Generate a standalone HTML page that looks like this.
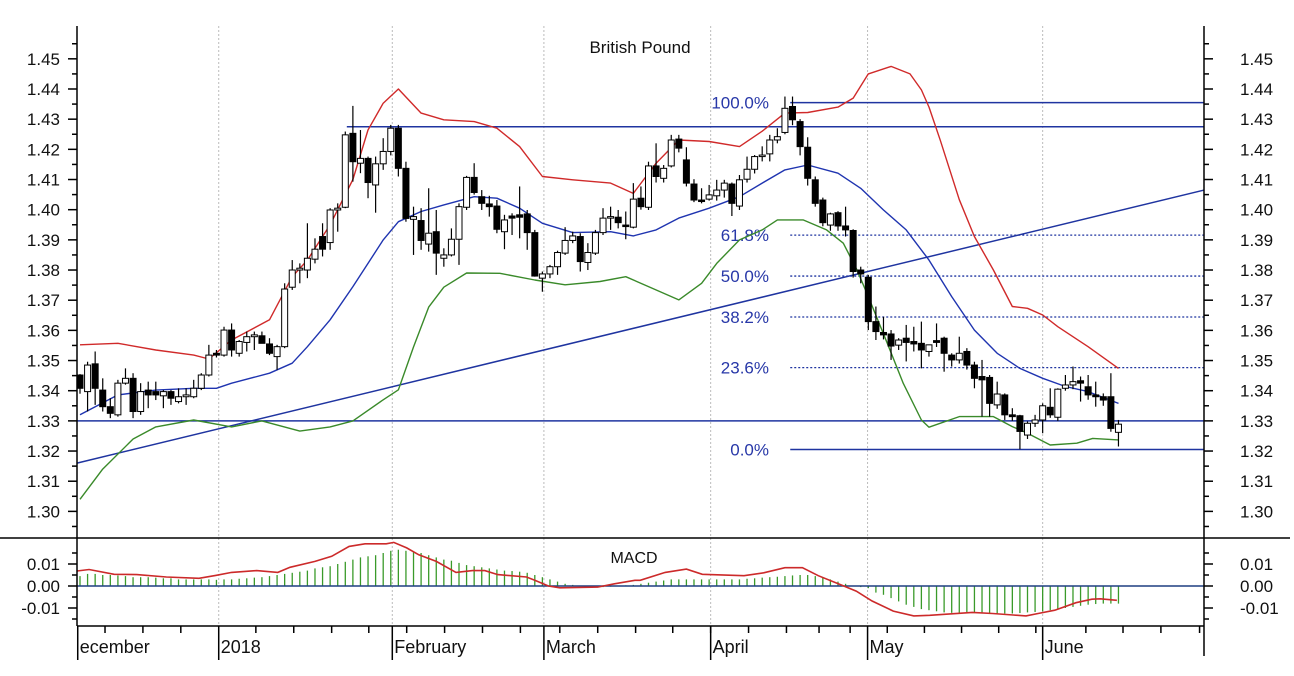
<!DOCTYPE html>
<html><head><meta charset="utf-8"><title>British Pound</title>
<style>
html,body{margin:0;padding:0;background:#fff;}
svg{display:block;font-family:"Liberation Sans",Arial,sans-serif;}
</style></head>
<body>
<svg id="chart" width="1294" height="676" viewBox="0 0 1294 676" xmlns="http://www.w3.org/2000/svg">
<rect x="0" y="0" width="1294" height="676" fill="#fff"/>
<g id="grid"></g>
<g id="lines"></g>
<g id="bands"></g>
<g id="candles"></g>
<g id="macd"></g>
<g id="axes"></g>
<text x="640" y="53" font-size="17" text-anchor="middle" fill="#111">British Pound</text>
<text x="634" y="563" font-size="16" text-anchor="middle" fill="#111">MACD</text>
</svg>
<script>
// ---- data ----
const opens = [1.3452,1.3397,1.3489,1.3402,1.3347,1.3320,1.3425,1.3441,1.3331,1.3402,1.3397,1.3383,1.3397,1.3364,1.3380,1.3380,1.3408,1.3452,1.3524,1.3518,1.3601,1.3524,1.3560,1.3579,1.3582,1.3555,1.3513,1.3546,1.3743,1.3800,1.3800,1.3836,1.3911,1.3891,1.3999,1.4008,1.4253,1.4154,1.4170,1.4082,1.4152,1.4193,1.4270,1.4137,1.3968,1.3964,1.3886,1.3927,1.3839,1.3850,1.3902,1.4008,1.4107,1.4043,1.4019,1.4012,1.3927,1.3979,1.3983,1.3986,1.3924,1.3773,1.3787,1.3811,1.3856,1.3898,1.3911,1.3825,1.3856,1.3924,1.3972,1.3975,1.3949,1.3942,1.4038,1.4008,1.4145,1.4104,1.4145,1.4234,1.4165,1.4085,1.4032,1.4035,1.4046,1.4065,1.4085,1.4012,1.4101,1.4134,1.4176,1.4185,1.4231,1.4256,1.4342,1.4292,1.4207,1.4099,1.4032,1.3949,1.3990,1.3946,1.3931,1.3800,1.3776,1.3629,1.3593,1.3588,1.3551,1.3574,1.3563,1.3557,1.3530,1.3566,1.3574,1.3518,1.3502,1.3530,1.3485,1.3447,1.3444,1.3353,1.3386,1.3320,1.3317,1.3253,1.3292,1.3303,1.3345,1.3312,1.3408,1.3419,1.3433,1.3413,1.3386,1.3380,1.3380,1.3262];
const highs = [1.3455,1.3496,1.3530,1.3441,1.3375,1.3436,1.3474,1.3458,1.3425,1.3430,1.3430,1.3402,1.3402,1.3408,1.3408,1.3436,1.3458,1.3552,1.3535,1.3612,1.3623,1.3568,1.3596,1.3596,1.3596,1.3574,1.3552,1.3756,1.3833,1.3822,1.3955,1.3905,1.3955,1.4005,1.4021,1.4259,1.4344,1.4264,1.4176,1.4176,1.4237,1.4281,1.4281,1.4159,1.4010,1.4005,1.4071,1.3999,1.3872,1.3938,1.4021,1.4112,1.4154,1.4065,1.4046,1.4032,1.3983,1.3988,1.4077,1.3999,1.3933,1.3795,1.3817,1.3864,1.3942,1.3927,1.3922,1.3889,1.3933,1.4005,1.4010,1.3999,1.3994,1.4088,1.4077,1.4159,1.4220,1.4148,1.4248,1.4248,1.4207,1.4101,1.4071,1.4082,1.4099,1.4099,1.4090,1.4115,1.4176,1.4181,1.4210,1.4248,1.4270,1.4375,1.4375,1.4300,1.4240,1.4110,1.4040,1.3990,1.3995,1.4010,1.3935,1.3811,1.3784,1.3679,1.3645,1.3601,1.3574,1.3618,1.3612,1.3629,1.3552,1.3623,1.3579,1.3524,1.3579,1.3541,1.3496,1.3502,1.3452,1.3430,1.3391,1.3342,1.3320,1.3298,1.3320,1.3358,1.3408,1.3408,1.3452,1.3480,1.3447,1.3452,1.3430,1.3391,1.3458,1.3303];
const lows = [1.3390,1.3331,1.3353,1.3331,1.3309,1.3314,1.3420,1.3309,1.3320,1.3342,1.3369,1.3342,1.3353,1.3358,1.3353,1.3375,1.3402,1.3447,1.3510,1.3513,1.3513,1.3513,1.3530,1.3535,1.3557,1.3518,1.3469,1.3541,1.3734,1.3756,1.3773,1.3822,1.3845,1.3867,1.3927,1.4005,1.4093,1.4121,1.4038,1.3990,1.4132,1.4180,1.4110,1.3960,1.3850,1.3867,1.3861,1.3784,1.3811,1.3845,1.3817,1.3999,1.4050,1.3999,1.3977,1.3922,1.3869,1.3916,1.3905,1.3867,1.3778,1.3728,1.3773,1.3784,1.3850,1.3889,1.3795,1.3800,1.3850,1.3916,1.3933,1.3938,1.3902,1.3938,1.4000,1.3999,1.4090,1.4090,1.4140,1.4190,1.4077,1.4025,1.4021,1.4030,1.4030,1.4040,1.3979,1.3999,1.4090,1.4120,1.4160,1.4160,1.4220,1.4250,1.4280,1.4180,1.4080,1.4010,1.3945,1.3930,1.3930,1.3911,1.3775,1.3756,1.3601,1.3568,1.3570,1.3502,1.3535,1.3497,1.3530,1.3474,1.3513,1.3545,1.3463,1.3480,1.3490,1.3470,1.3408,1.3314,1.3314,1.3340,1.3303,1.3300,1.3206,1.3240,1.3280,1.3259,1.3310,1.3300,1.3400,1.3405,1.3364,1.3370,1.3347,1.3350,1.3264,1.3215];
const closes = [1.3408,1.3485,1.3408,1.3347,1.3325,1.3425,1.3441,1.3331,1.3397,1.3386,1.3386,1.3397,1.3375,1.3380,1.3386,1.3408,1.3452,1.3518,1.3518,1.3601,1.3535,1.3563,1.3579,1.3585,1.3557,1.3524,1.3546,1.3737,1.3800,1.3806,1.3839,1.3869,1.3869,1.3999,1.4005,1.4248,1.4159,1.4170,1.4090,1.4152,1.4193,1.4270,1.4137,1.3971,1.3977,1.3898,1.3922,1.3856,1.3850,1.3902,1.4010,1.4107,1.4057,1.4021,1.4010,1.3935,1.3966,1.3972,1.3975,1.3924,1.3780,1.3787,1.3811,1.3858,1.3898,1.3913,1.3828,1.3858,1.3924,1.3972,1.3977,1.3957,1.3944,1.4035,1.4010,1.4145,1.4110,1.4137,1.4231,1.4204,1.4088,1.4032,1.4027,1.4049,1.4065,1.4088,1.4021,1.4099,1.4134,1.4176,1.4181,1.4231,1.4242,1.4336,1.4298,1.4209,1.4104,1.4021,1.3957,1.3986,1.3946,1.3933,1.3795,1.3787,1.3629,1.3596,1.3585,1.3548,1.3568,1.3560,1.3555,1.3535,1.3552,1.3560,1.3524,1.3502,1.3524,1.3485,1.3441,1.3436,1.3358,1.3389,1.3320,1.3314,1.3265,1.3292,1.3303,1.3350,1.3320,1.3405,1.3419,1.3430,1.3425,1.3386,1.3380,1.3369,1.3275,1.3289];

const upperIdx = [0,5,10,15,17,20,25,28,30,33,36,38,40,42,45,48,52,55,58,61,65,70,73,76,79,83,87,90,93,96,100,102,104,107,109.5,111,112,113.5,116,118,120.5,123,125,127,129,133,137];
const upperVal = [1.3552,1.3557,1.3535,1.3518,1.3505,1.3568,1.3635,1.3778,1.3833,1.3950,1.4100,1.4264,1.4353,1.4400,1.4320,1.4298,1.4292,1.4270,1.4209,1.4110,1.4099,1.4088,1.4054,1.4154,1.4231,1.4226,1.4209,1.4260,1.4320,1.4322,1.4340,1.4370,1.4450,1.4475,1.4450,1.4397,1.4340,1.4230,1.4033,1.3911,1.3800,1.3679,1.3673,1.3651,1.3612,1.3546,1.3474];
const midIdx = [0,5,10,15,18,20,25,28,30,33,36,38,40,42,45,48,52,55,58,61,65,70,73,76,79,83,87,90,93,96,100,103,106,109,112,115,118,121,124,127,130,133,137];
const midVal = [1.3320,1.3386,1.3402,1.3408,1.3408,1.3425,1.3458,1.3491,1.3546,1.3635,1.3745,1.3822,1.3900,1.3960,1.3994,1.4016,1.4043,1.4038,1.4005,1.3955,1.3924,1.3927,1.3913,1.3933,1.3972,1.4005,1.4043,1.4088,1.4132,1.4148,1.4121,1.4071,1.3999,1.3933,1.3833,1.3712,1.3601,1.3524,1.3474,1.3441,1.3414,1.3397,1.3358];
const lowerIdx = [0,3,7,10,15,20,24,29,33,36,40,42,44,46,48,51,55.4,60,64,68.6,72,75,79,82,84,87,90,92,95.4,98.5,100.7,102.5,104,106.5,108.6,111,112,116,120.5,123,125,128,131.5,133.6,137];
const lowerVal = [1.3040,1.3140,1.3240,1.3280,1.3303,1.3280,1.3300,1.3266,1.3280,1.3300,1.3370,1.3403,1.3545,1.3677,1.3743,1.3790,1.3789,1.3767,1.3751,1.3762,1.3778,1.3745,1.3701,1.3756,1.3822,1.3900,1.3933,1.3966,1.3966,1.3933,1.3889,1.3800,1.3712,1.3557,1.3425,1.3303,1.3279,1.3314,1.3314,1.3281,1.3259,1.3220,1.3226,1.3242,1.3237];

const macdIdx = [-0.4,1.2,4.5,7.5,11.4,15.7,17.9,20,23.3,26.1,27.7,31,33.2,35.5,37.6,40.4,41.4,43.1,44.7,47,49.6,51.8,53.4,55.1,58.9,60,61.8,63.3,68.3,70.5,73.2,73.9,77.2,80,82.1,87.6,90.2,93,95.3,97.4,100.2,102.4,104.5,107.3,110,112.1,117.7,120.4,123.1,124.8,126.4,128.6,131.4,133.5,134.6,136.8];
const macdVal = [0.0068,0.0075,0.0053,0.0052,0.0041,0.0035,0.0048,0.0062,0.0070,0.0062,0.0085,0.0112,0.0135,0.0180,0.0192,0.0192,0.0198,0.0173,0.0142,0.0112,0.0062,0.0070,0.0070,0.0052,0.0041,0.0026,0.0000,-0.0008,-0.0005,0.0010,0.0026,0.0026,0.0062,0.0077,0.0053,0.0047,0.0060,0.0083,0.0083,0.0047,0.0008,-0.0023,-0.0068,-0.0114,-0.0136,-0.0133,-0.0120,-0.0125,-0.0132,-0.0136,-0.0125,-0.0110,-0.0076,-0.0060,-0.0058,-0.0065];
const histVal = [0.0045,0.0055,0.0055,0.005,0.005,0.0048,0.0045,0.004,0.004,0.004,0.0038,0.0035,0.0035,0.003,0.003,0.003,0.003,0.003,0.0028,0.003,0.003,0.0033,0.0035,0.0038,0.004,0.0045,0.005,0.0055,0.006,0.0065,0.007,0.008,0.0085,0.009,0.01,0.011,0.012,0.013,0.0135,0.014,0.015,0.016,0.0165,0.016,0.0155,0.015,0.014,0.013,0.012,0.0115,0.0105,0.0095,0.009,0.0085,0.008,0.0075,0.007,0.0068,0.0065,0.006,0.005,0.004,0.003,0.002,0.001,0.0005,0,-0.0003,-0.0005,-0.0005,-0.0003,0,0.0003,0.0005,0.001,0.0015,0.002,0.0025,0.003,0.003,0.003,0.003,0.003,0.003,0.003,0.003,0.003,0.003,0.0033,0.0035,0.0038,0.004,0.0042,0.0045,0.0048,0.005,0.005,0.0045,0.004,0.003,0.002,0.001,0,-0.0005,-0.001,-0.003,-0.004,-0.0055,-0.007,-0.0085,-0.0095,-0.0105,-0.011,-0.0115,-0.012,-0.0122,-0.0123,-0.0123,-0.0123,-0.0125,-0.0125,-0.0125,-0.0125,-0.0125,-0.0123,-0.012,-0.0118,-0.0115,-0.011,-0.0105,-0.01,-0.0095,-0.009,-0.0085,-0.0082,-0.008,-0.008,-0.008];

const priceTicks = [1.30,1.31,1.32,1.33,1.34,1.35,1.36,1.37,1.38,1.39,1.40,1.41,1.42,1.43,1.44,1.45];
const macdTicks = [0.01,0.00,-0.01];
const monthLabels = ["ecember","2018","February","March","April","May","June"];
const monthIdx = [-0.3,18.3,41.2,61.2,83.2,103.9,127];
const weekIdx = [3.3,8.3,13.3,23.2,28.2,33.2,38.1,43.1,48.1,53.1,58.1,63.3,68.3,73.3,78.2,83.2,88.2,93.2,97.5,101.6,106.5,111.4,116.3,121.2,126.1,132.7,137.6,142.6,147.7];

const resistance = [1.4275,1.4355];
const support = [1.3300,1.3205];
const fibLow = 1.3205, fibHigh = 1.4355;
const fibLevels = [0.0,0.236,0.382,0.5,0.618,1.0];
const trendStart = {i:-0.4, p:1.3160}, trendEnd = {i:148.3, p:1.4065};

// ---- scales ----
const L = 77, R = 1204, TOP = 26, SEP = 538, BOT = 626;
const X = i => 80 + i * 7.58;
const Y = p => 89 + (1.44 - p) * 3017;
const YM = v => 586 - v * 2200;
const NS = "http://www.w3.org/2000/svg";
function mk(tag, attrs, parent) {
  const e = document.createElementNS(NS, tag);
  for (const k in attrs) e.setAttribute(k, attrs[k]);
  parent.appendChild(e);
  return e;
}
const gGrid = document.getElementById('grid'), gLines = document.getElementById('lines'),
      gBands = document.getElementById('bands'), gC = document.getElementById('candles'),
      gM = document.getElementById('macd'), gA = document.getElementById('axes');

monthIdx.slice(1).forEach((mi, k) => {
  const l = mk('line', {x1:X(mi), x2:X(mi), y1:TOP, y2:BOT, stroke:'#bbb', 'stroke-width':1, 'stroke-dasharray':'2,2'}, gGrid);
  
  
});

resistance.forEach((p, k) => {
  const x1 = k === 0 ? X(35.2) : X(93.7);
  const l = mk('line', {x1:x1, x2:R, y1:Y(p), y2:Y(p), stroke:'#1f34a0', 'stroke-width':1.5}, gLines);
  
  
});
support.forEach((p, k) => {
  const x1 = k === 0 ? L : X(93.7);
  const l = mk('line', {x1:x1, x2:R, y1:Y(p), y2:Y(p), stroke:'#1f34a0', 'stroke-width':1.5}, gLines);
  
  
});
fibLevels.forEach(f => {
  const p = fibLow + f * (fibHigh - fibLow);
  if (f > 0 && f < 1) {
    const l = mk('line', {x1:X(93.7), x2:R, y1:Y(p), y2:Y(p), stroke:'#1f34a0', 'stroke-width':1.3, 'stroke-dasharray':'2,2'}, gLines);
    
    
  }
  const t = mk('text', {x:769, y:Y(p) + 6, 'font-size':17, 'text-anchor':'end', fill:'#2838a8'}, gLines);
  t.textContent = (f * 100).toFixed(1) + '%';
  
  
});
const tl = mk('line', {x1:X(trendStart.i), y1:Y(trendStart.p), x2:X(trendEnd.i), y2:Y(trendEnd.p), stroke:'#1f34a0', 'stroke-width':1.5}, gLines);



function poly(idx, vals, color, name) {
  const pts = idx.map((i, k) => X(i).toFixed(1) + ',' + Y(vals[k]).toFixed(1)).join(' ');
  const e = mk('polyline', {points:pts, fill:'none', stroke:color, 'stroke-width':1.4, 'stroke-linejoin':'round'}, gBands);
  
  
}
poly(upperIdx, upperVal, '#d02a2a', 'upper-bollinger-band');
poly(midIdx, midVal, '#1f34b0', 'moving-average');
poly(lowerIdx, lowerVal, '#3a8a2a', 'lower-bollinger-band');

closes.forEach((c, i) => {
  const o = opens[i], h = highs[i], lo = lows[i], x = X(i);
  const w = mk('line', {x1:x, x2:x, y1:Y(h), y2:Y(lo), stroke:'#000', 'stroke-width':1.2}, gC);
  
  
  const top = Y(Math.max(o, c)), bot = Y(Math.min(o, c));
  const up = c >= o;
  const b = mk('rect', {x:x - 3, y:top, width:6, height:Math.max(1.5, bot - top), fill: up ? '#fff' : '#000', stroke:'#000', 'stroke-width':1}, gC);
  
  
});

histVal.forEach((v, i) => {
  const b = mk('line', {x1:X(i), x2:X(i), y1:YM(0), y2:YM(v), stroke:'#3a9a2a', 'stroke-width':1.3}, gM);
  
  
});
const z = mk('line', {x1:L, x2:R, y1:YM(0), y2:YM(0), stroke:'#1f3f80', 'stroke-width':1.5}, gM);


const mp = mk('polyline', {points: macdIdx.map((i, k) => X(i).toFixed(1) + ',' + YM(macdVal[k]).toFixed(1)).join(' '), fill:'none', stroke:'#cc2a2a', 'stroke-width':1.6}, gM);



const ax = (x1,y1,x2,y2,name) => { const e = mk('line', {x1,y1,x2,y2, stroke:'#000', 'stroke-width':1.5}, gA);   };
ax(L, TOP, L, BOT, 'left-axis');
ax(R, TOP, R, BOT + 30, 'right-axis');
ax(0, SEP, 1290, SEP, 'panel-separator');
ax(L, BOT, R, BOT, 'x-axis');
for (let k = 0; k <= 32; k++) {
  const p = 1.295 + k * 0.005;
  const y = Y(p);
  if (y < TOP + 3 || y > SEP - 3) continue;
  const major = k % 2 === 1;
  const len = major ? 9 : 5;
  ax(L - len, y, L, y, 'price-tick-left');
  ax(R, y, R + len, y, 'price-tick-right');
}
priceTicks.forEach(p => {
  const t1 = mk('text', {x:60, y:Y(p) + 6, 'font-size':17, 'text-anchor':'end', fill:'#111'}, gA);
  t1.textContent = p.toFixed(2);
  
  
  const t2 = mk('text', {x:1240, y:Y(p) + 6, 'font-size':17, 'text-anchor':'start', fill:'#111'}, gA);
  t2.textContent = p.toFixed(2);
  
  
});
for (let k = -3; k <= 3; k++) {
  const v = k * 0.005, y = YM(v);
  const len = k % 2 === 0 ? 9 : 5;
  ax(L - len, y, L, y, 'macd-tick-left');
  ax(R, y, R + len, y, 'macd-tick-right');
}
macdTicks.forEach(v => {
  const s = v === 0 ? '0.00' : v.toFixed(2);
  const t1 = mk('text', {x:60, y:YM(v) + 6, 'font-size':17, 'text-anchor':'end', fill:'#111'}, gA);
  t1.textContent = s;
  
  
  const t2 = mk('text', {x:1240, y:YM(v) + 6, 'font-size':17, 'text-anchor':'start', fill:'#111'}, gA);
  t2.textContent = s;
  
  
});
weekIdx.forEach(i => { const x = X(i); if (x < R) ax(x, BOT, x, BOT + 7, 'week-tick'); });
monthIdx.forEach((mi, k) => {
  const x = Math.max(L, X(mi));
  ax(x, BOT, x, 660, 'month-tick');
  const t = mk('text', {x:x + 2, y:653, 'font-size':18, fill:'#111'}, gA);
  t.textContent = monthLabels[k];
  
  
});
</script>
</body></html>
